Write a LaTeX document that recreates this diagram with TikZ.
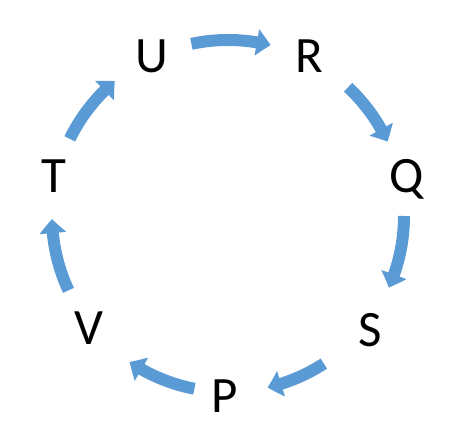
\documentclass[tikz,border=0pt]{standalone}
\usepackage{fontspec}
\setmainfont{Carlito}
\usetikzlibrary{arrows.meta,bending,calc}
\definecolor{arrblue}{HTML}{5B9BD5}
\begin{document}
\begin{tikzpicture}[x=1pt,y=1pt,
  lbl/.style={anchor=base,inner sep=0pt,font=\fontsize{51}{51}\selectfont},
  arr/.style={draw=arrblue,line width=12pt,-{Triangle[width=26pt,length=14pt,bend]}}]
\useasboundingbox (0,0) rectangle (474,425);
\coordinate (o) at (228,209);
\node[lbl] (U) at (152,352) {U};
\node[lbl] (R) at (309,352) {R};
\node[lbl] (Q) at (407,232) {Q};
\node[lbl] (S) at (370,78) {S};
\node[lbl] (P) at (225,12) {P};
\node[lbl] (V) at (89,80) {V};
\node[lbl] (T) at (54,232) {T};
\foreach \n/\a/\b in {ur/102/76, rq/47/25, qs/0/-24, sp/-57/-77, pv/-101/-124, vt/-155/-179, tu/154/130}{
  \coordinate (\n) at ($(o)+(\a:176)$);
  \draw[arr] (\n) arc[start angle=\a, end angle=\b, radius=176];
}
\end{tikzpicture}
\end{document}
